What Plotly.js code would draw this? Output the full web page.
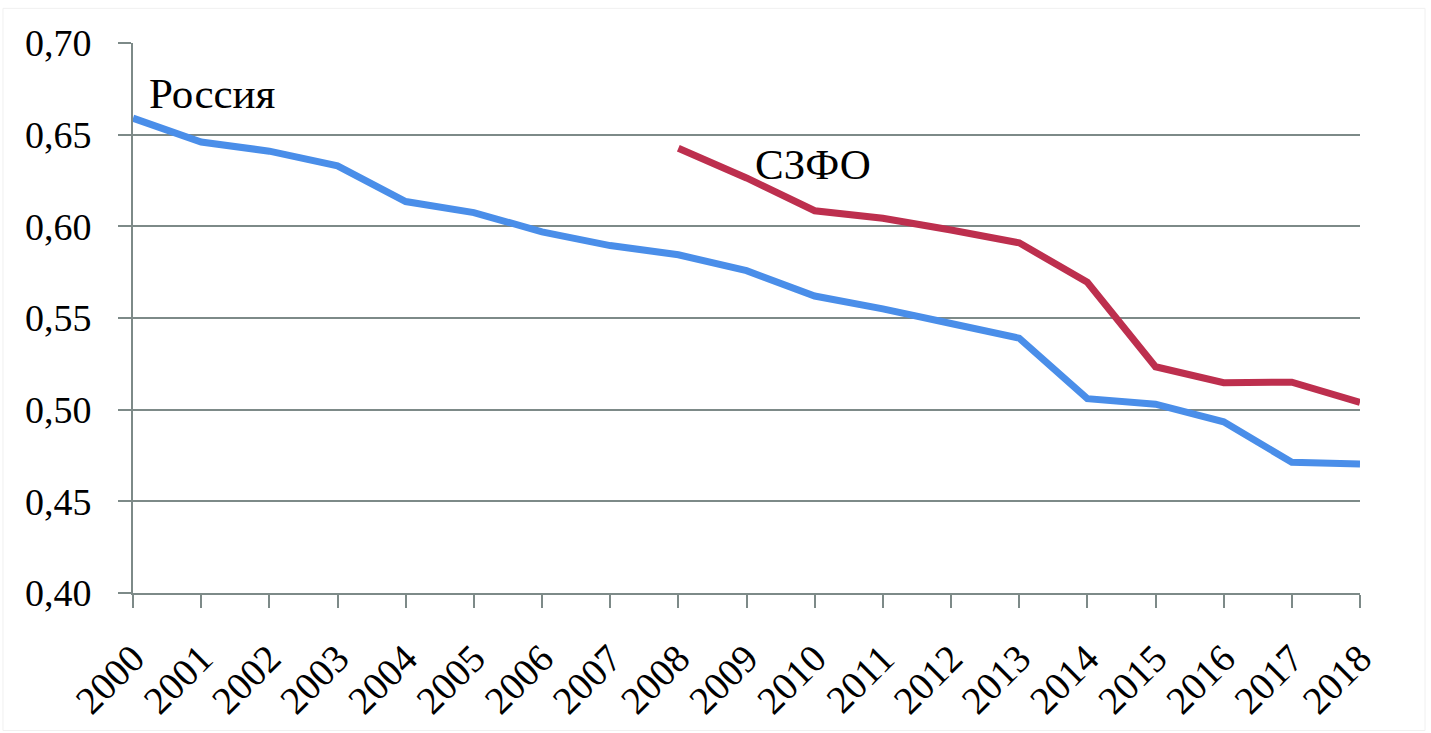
<!DOCTYPE html>
<html>
<head>
<meta charset="utf-8">
<script src="https://cdn.plot.ly/plotly-3.0.1.min.js"></script>
<style>html,body{margin:0;padding:0;background:#fff;}#chart{width:1431px;height:733px;}</style>
</head>
<body>
<div id="chart"></div>
<script>
const years = [2000,2001,2002,2003,2004,2005,2006,2007,2008,2009,2010,2011,2012,2013,2014,2015,2016,2017,2018];
const russia = [0.659,0.646,0.641,0.633,0.6135,0.6075,0.597,0.5895,0.5845,0.5758,0.562,0.555,0.547,0.539,0.506,0.503,0.4934,0.4713,0.4704];
const szfoYears = [2008,2009,2010,2011,2012,2013,2014,2015,2016,2017,2018];
const szfo = [0.6426,0.6264,0.6085,0.6044,0.598,0.591,0.5695,0.5234,0.5147,0.515,0.504];
const yTicks = [0.40,0.45,0.50,0.55,0.60,0.65,0.70];
const labelRussia = 'Россия';
const labelSzfo = 'СЗФО';

const font = 'Liberation Serif, Times New Roman, serif';
const gridCol = '#7d8a88';

const traces = [
  {x: years, y: russia, type: 'scatter', mode: 'lines', line: {color: '#4a8ee9', width: 7}, cliponaxis: false, hoverinfo: 'none'},
  {x: szfoYears, y: szfo, type: 'scatter', mode: 'lines', line: {color: '#bd2f4e', width: 7}, cliponaxis: false, hoverinfo: 'none'}
];

const layout = {
  width: 1431, height: 733,
  margin: {l: 133, r: 71, t: 43, b: 140},
  paper_bgcolor: '#fff', plot_bgcolor: '#fff',
  showlegend: false,
  separators: ', ',
  font: {family: font, size: 38, color: '#000'},
  xaxis: {
    range: [2000, 2018], tickmode: 'array', tickvals: years, ticktext: years.map(String),
    tickangle: -45, showgrid: false, zeroline: false,
    showline: true, linecolor: gridCol, linewidth: 2,
    ticks: 'outside', ticklen: 13, tickwidth: 2, tickcolor: gridCol,
    ticklabelstandoff: 12,
    tickfont: {family: font, size: 39, color: '#000'}
  },
  yaxis: {
    range: [0.40, 0.70], tickmode: 'array', tickvals: yTicks, tickformat: '.2f',
    showgrid: true, gridcolor: gridCol, gridwidth: 2, zeroline: false,
    showline: true, linecolor: gridCol, linewidth: 2,
    ticks: 'outside', ticklen: 13, tickwidth: 2, tickcolor: gridCol,
    ticklabelstandoff: 19,
    tickfont: {family: font, size: 38, color: '#000'}
  },
  annotations: [
    {x: 2000.2, y: 0.6725, xref: 'x', yref: 'y', text: labelRussia, showarrow: false, xanchor: 'left', yanchor: 'middle', font: {family: font, size: 43, color: '#000'}},
    {x: 2009.97, y: 0.6335, xref: 'x', yref: 'y', text: labelSzfo, showarrow: false, xanchor: 'center', yanchor: 'middle', font: {family: font, size: 43, color: '#000'}}
  ],
  shapes: [
    {type: 'rect', xref: 'paper', yref: 'paper', x0: -0.106, x1: 1.053, y0: -0.25, y1: 1.063, line: {color: '#f0f0f0', width: 1}, layer: 'below'}
  ]
};

Plotly.newPlot('chart', traces, layout, {staticPlot: true, displayModeBar: false});
</script>
</body>
</html>
